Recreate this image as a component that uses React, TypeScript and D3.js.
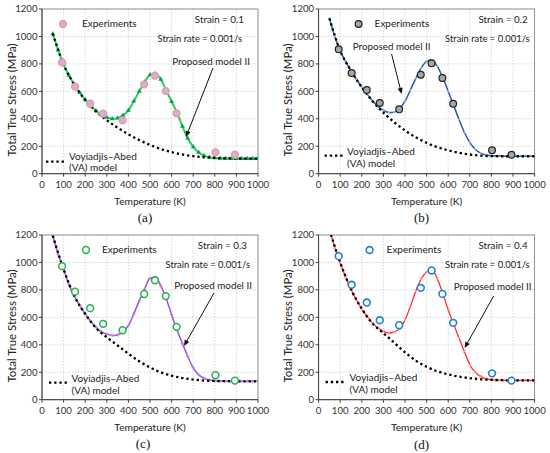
import React from "react";
import * as d3 from "d3";

// ---------- data ----------
const expT = [93, 153, 223, 283, 373, 473, 523, 573, 623, 803, 893];
const expA = [811, 634, 510, 437, 389, 651, 714, 602, 440, 155, 138];
const expB = [906, 734, 610, 515, 469, 721, 804, 697, 510, 170, 138];
const expC = [973, 787, 667, 553, 506, 770, 870, 755, 531, 178, 139];
const expD = [1046, 837, 708, 579, 543, 815, 942, 771, 560, 192, 139];

const modelT = [50, 75, 100, 125, 150, 175, 200, 225, 250, 275, 300, 325, 350, 375, 400, 425, 450, 475, 500, 525,
  550, 575, 600, 625, 650, 675, 700, 725, 750, 775, 800, 825, 850, 875, 900, 925, 950, 975, 1000];
const modelA = [1020, 900, 795, 715, 648, 590, 538, 494, 458, 430, 410, 400, 405, 425, 462, 528, 600, 668, 720, 728,
  688, 608, 525, 445, 345, 258, 195, 155, 132, 120, 115, 112, 111, 110, 110, 110, 110, 110, 110];
const modelB = [1132, 1000, 896, 818, 750, 688, 630, 578, 532, 490, 462, 446, 448, 475, 528, 610, 695, 770, 818, 828,
  782, 700, 600, 498, 395, 300, 228, 178, 150, 136, 131, 129, 128, 127, 127, 127, 127, 127, 127];
const modelC = [1195, 1060, 950, 840, 755, 685, 625, 572, 528, 495, 478, 468, 472, 495, 540, 625, 720, 805, 885, 893,
  830, 738, 620, 508, 410, 315, 232, 182, 157, 144, 138, 136, 135, 134, 134, 134, 134, 134, 134];
const modelD = [1240, 1110, 1000, 895, 805, 728, 662, 605, 558, 522, 498, 486, 492, 520, 580, 680, 790, 880, 930, 945,
  880, 775, 655, 552, 450, 350, 255, 200, 170, 153, 146, 143, 142, 141, 141, 141, 141, 141, 141];

const vaT = [50, 100, 150, 200, 250, 300, 350, 400, 450, 500, 550, 600, 650, 700, 750, 800, 850, 900, 950, 1000];
const vaA = [1020, 795, 648, 538, 455, 390, 335, 287, 245, 210, 180, 157, 140, 128, 120, 115, 112, 111, 110, 110];
const vaB = [1132, 896, 750, 630, 528, 445, 375, 315, 265, 225, 193, 170, 152, 140, 132, 128, 127, 127, 127, 127];
const vaC = [1195, 950, 755, 625, 522, 455, 395, 335, 280, 235, 200, 175, 158, 147, 140, 137, 135, 134, 134, 134];
const vaD = [1240, 1000, 805, 662, 555, 485, 415, 345, 285, 240, 207, 184, 168, 157, 149, 145, 142, 141, 141, 141];

const xTicks = [0, 100, 200, 300, 400, 500, 600, 700, 800, 900, 1000];
const yTicks = [0, 200, 400, 600, 800, 1000, 1200];
const strains = ["0.1", "0.2", "0.3", "0.4"];
const captions = ["(a)", "(b)", "(c)", "(d)"];

const FONT = "Lato, 'Open Sans', sans-serif";

type PanelCfg = {
  ox: number; oy: number;
  exp: number[]; model: number[]; va: number[];
  expFill: string; expStroke: string; expSW: number;
  lineColor: string; lineW: number; markColor: string; mark: "tri" | "dot" | "plus" | "x";
  legX: number; legTextX: number;
  strainRight: number; rateRight: number;
  propX: number; propY: number; arrow: [number, number, number, number];
  vaLine: [number, number, number]; vaTextX: number; vaY1: number; vaY2: number;
  capX: number; capY: number;
  strain: string; caption: string; idx: number;
};

const W = 216, H = 164.7, L = 42, T = 9;

function Panel(c: PanelCfg) {
  const x = d3.scaleLinear().domain([0, 1000]).range([0, W]);
  const y = d3.scaleLinear().domain([0, 1200]).range([H, 0]);
  const line = d3.line<[number, number]>().x(d => x(d[0])).y(d => y(d[1])).curve(d3.curveMonotoneX);
  const modelPts: [number, number][] = modelT.map((t, i) => [t, c.model[i]]);
  const vaPts: [number, number][] = vaT.map((t, i) => [t, c.va[i]]);
  const tri = d3.symbol(d3.symbolTriangle, 10)() as string;
  const clipId = "clip" + c.idx;
  const [ax1, ay1, ax2, ay2] = c.arrow;
  const ang = Math.atan2(ay2 - ay1, ax2 - ax1);
  const ah = 6, aw = 2.6;
  const head = `M${ax2},${ay2}L${ax2 - ah * Math.cos(ang) + aw * Math.sin(ang)},${ay2 - ah * Math.sin(ang) - aw * Math.cos(ang)}L${ax2 - ah * Math.cos(ang) - aw * Math.sin(ang)},${ay2 - ah * Math.sin(ang) + aw * Math.cos(ang)}Z`;

  const marker = (px: number, py: number, k: number) => {
    if (c.mark === "tri") return <path key={k} d={tri} transform={`translate(${px},${py})`} fill={c.markColor} />;
    if (c.mark === "dot") return <circle key={k} cx={px} cy={py} r={1.1} fill={c.markColor} />;
    if (c.mark === "plus") return <path key={k} d={`M${px - 1.8},${py}H${px + 1.8}M${px},${py - 1.8}V${py + 1.8}`} stroke={c.markColor} strokeWidth={0.9} />;
    return <path key={k} d={`M${px - 1.6},${py - 1.6}L${px + 1.6},${py + 1.6}M${px - 1.6},${py + 1.6}L${px + 1.6},${py - 1.6}`} stroke={c.markColor} strokeWidth={0.9} />;
  };

  return (
    <g transform={`translate(${c.ox},${c.oy})`} fontFamily={FONT}>
      <defs>
        <clipPath id={clipId}><rect x={L} y={T} width={W} height={H} /></clipPath>
      </defs>
      <g transform={`translate(${L},${T})`}>
        {xTicks.map(t => (
          <line key={"gx" + t} x1={x(t)} x2={x(t)} y1={0} y2={H} stroke="#cfcfcf" strokeWidth={0.8} strokeDasharray="1.5 1.5" />
        ))}
        {yTicks.map(t => (
          <line key={"gy" + t} x1={0} x2={W} y1={y(t)} y2={y(t)} stroke="#cfcfcf" strokeWidth={0.8} strokeDasharray="1.5 1.5" />
        ))}
        <rect x={0} y={0} width={W} height={H} fill="none" stroke="#7f7f7f" strokeWidth={0.8} />
        <line x1={0} x2={0} y1={0} y2={H} stroke="#404040" strokeWidth={1} />
        <line x1={0} x2={W} y1={H} y2={H} stroke="#404040" strokeWidth={1} />
        {xTicks.map(t => (
          <g key={"tx" + t}>
            <line x1={x(t)} x2={x(t)} y1={H} y2={H + 3} stroke="#404040" />
            <text x={x(t)} y={H + 14} textAnchor="middle" fontSize={9.6} fill="#333">{t}</text>
          </g>
        ))}
        {yTicks.map(t => (
          <g key={"ty" + t}>
            <line x1={-3} x2={0} y1={y(t)} y2={y(t)} stroke="#404040" />
            <text x={-4.5} y={y(t) + 3.4} textAnchor="end" fontSize={9.6} fill="#333">{t}</text>
          </g>
        ))}
      </g>
      <g clipPath={`url(#${clipId})`}>
        <g transform={`translate(${L},${T})`}>
          <path d={line(modelPts) as string} fill="none" stroke={c.lineColor} strokeWidth={c.lineW} />
          {modelPts.map((p, i) => marker(x(p[0]), y(p[1]), i))}
          <path d={line(vaPts) as string} fill="none" stroke="#000" strokeWidth={2.3} strokeDasharray="2.3 2.9" />
        </g>
      </g>
      <g transform={`translate(${L},${T})`}>
        {expT.map((t, i) => (
          <circle key={"e" + i} cx={x(t)} cy={y(c.exp[i])} r={3.4} fill={c.expFill} stroke={c.expStroke} strokeWidth={c.expSW} />
        ))}
      </g>
      {/* legend & annotations */}
      <circle cx={c.legX} cy={24} r={3.4} fill={c.expFill} stroke={c.expStroke} strokeWidth={c.expSW} />
      <text x={c.legTextX} y={27.4} fontSize={10} fill="#222">Experiments</text>
      <text x={c.strainRight} y={23} textAnchor="end" fontSize={9.8} fill="#222">Strain = {c.strain}</text>
      <text x={c.rateRight} y={41.5} textAnchor="end" fontSize={9.4} fill="#222">Strain rate = 0.001/s</text>
      <text x={c.propX} y={c.propY} textAnchor="middle" fontSize={9.8} fill="#222">Proposed model II</text>
      <line x1={ax1} y1={ay1} x2={ax2 - 4 * Math.cos(ang)} y2={ay2 - 4 * Math.sin(ang)} stroke="#111" strokeWidth={1} />
      <path d={head} fill="#111" />
      <line x1={c.vaLine[0]} x2={c.vaLine[1]} y1={c.vaLine[2]} y2={c.vaLine[2]} stroke="#000" strokeWidth={2.3} strokeDasharray="2.3 2.9" />
      <text x={c.vaTextX} y={c.vaY1} fontSize={10} fill="#222">Voyiadjis–Abed</text>
      <text x={c.vaTextX} y={c.vaY2} fontSize={10} fill="#222">(VA) model</text>
      <text transform={`translate(15.5,100) rotate(-90)`} textAnchor="middle" fontSize={11.4} fill="#222">Total True Stress (MPa)</text>
      <text x={L + W / 2} y={205} textAnchor="middle" fontSize={10.2} fill="#222">Temperature (K)</text>
      <text x={c.capX} y={c.capY} textAnchor="middle" fontSize={13} fontFamily="'Liberation Serif', 'DejaVu Serif', serif" fill="#111">{c.caption}</text>
    </g>
  );
}

const panels: PanelCfg[] = [
  {
    ox: 0, oy: 0, exp: expA, model: modelA, va: vaA,
    expFill: "#c8b6da", expStroke: "#f097a3", expSW: 1.5,
    lineColor: "#2ecc5a", lineW: 2, markColor: "#00a44a", mark: "tri",
    legX: 63, legTextX: 82, strainRight: 244, rateRight: 242,
    propX: 211, propY: 65, arrow: [213, 68, 186, 137],
    vaLine: [46, 64, 161.7], vaTextX: 69, vaY1: 159.5, vaY2: 170.5,
    capX: 145, capY: 222, strain: strains[0], caption: captions[0], idx: 0,
  },
  {
    ox: 276.6, oy: 0, exp: expB, model: modelB, va: vaB,
    expFill: "#a6a6a6", expStroke: "#222", expSW: 1.2,
    lineColor: "#2a5aa0", lineW: 1.5, markColor: "#8fbbe8", mark: "dot",
    legX: 82, legTextX: 98, strainRight: 251, rateRight: 253,
    propX: 115, propY: 50, arrow: [115, 54, 125, 94],
    vaLine: [48, 66, 155.7], vaTextX: 70.5, vaY1: 154.5, vaY2: 166.5,
    capX: 145, capY: 222, strain: strains[1], caption: captions[1], idx: 1,
  },
  {
    ox: 0, oy: 226, exp: expC, model: modelC, va: vaC,
    expFill: "#ffffff", expStroke: "#22b14c", expSW: 1.5,
    lineColor: "#9b55d2", lineW: 1.5, markColor: "#b587e3", mark: "plus",
    legX: 86, legTextX: 102, strainRight: 247, rateRight: 250,
    propX: 213, propY: 63, arrow: [214, 67, 184, 120],
    vaLine: [49, 67, 156.7], vaTextX: 71.5, vaY1: 155.5, vaY2: 168,
    capX: 143, capY: 222, strain: strains[2], caption: captions[2], idx: 2,
  },
  {
    ox: 276.6, oy: 226, exp: expD, model: modelD, va: vaD,
    expFill: "#ffffff", expStroke: "#1f80d0", expSW: 1.6,
    lineColor: "#ff2b2b", lineW: 1.3, markColor: "#ff9d9d", mark: "x",
    legX: 93, legTextX: 110, strainRight: 251, rateRight: 253,
    propX: 216, propY: 64, arrow: [217, 70, 188, 122],
    vaLine: [49, 67, 156], vaTextX: 73, vaY1: 154.5, vaY2: 167,
    capX: 145, capY: 223, strain: strains[3], caption: captions[3], idx: 3,
  },
];

export default function App() {
  return (
    <svg width={550} height={453} viewBox="0 0 550 453" style={{ position: "absolute", left: 0, top: 0, background: "#fff" }}>
      <rect width={550} height={453} fill="#fff" />
      {panels.map(p => <Panel key={p.idx} {...p} />)}
    </svg>
  );
}
